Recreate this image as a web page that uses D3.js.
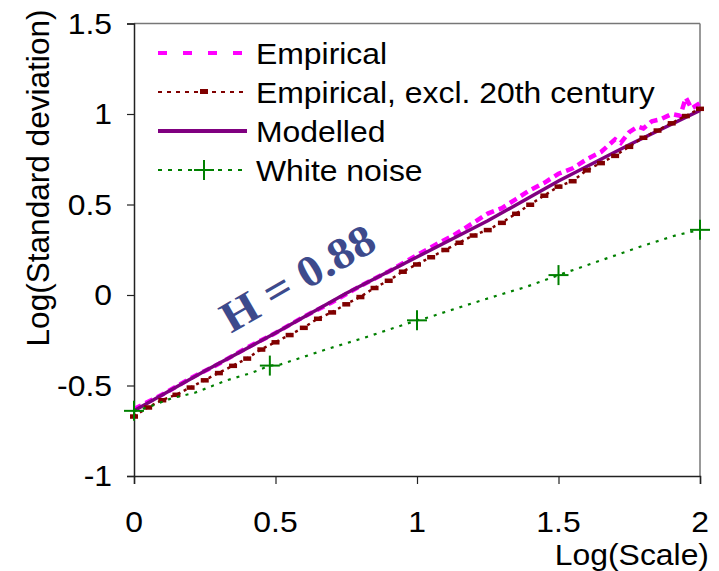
<!DOCTYPE html>
<html><head><meta charset="utf-8">
<script src="https://cdn.jsdelivr.net/npm/d3@7"></script>
<style>body{margin:0;background:#fff}svg{display:block}</style>
</head><body><svg id="c" width="719" height="571"></svg>
<script>
const xTicks=[0,0.5,1,1.5,2];
const yTicks=[-1,-0.5,0,0.5,1,1.5];
const seriesNames=["Empirical","Empirical, excl. 20th century","Modelled","White noise"];
const empX=[0,0.1,0.2,0.3,0.4,0.5,0.6,0.7,0.8,0.9,1.0,1.08,1.13,1.2,1.25,1.3,1.35,1.4,1.45,1.5,1.55,1.6,1.65,1.7,1.72,1.75,1.78,1.8,1.83,1.86,1.9,1.93,1.95,1.97,2.0];
const empY=[-0.63,-0.55,-0.46,-0.38,-0.29,-0.21,-0.12,-0.04,0.05,0.13,0.22,0.29,0.33,0.4,0.45,0.48,0.53,0.58,0.62,0.67,0.70,0.75,0.79,0.86,0.84,0.9,0.93,0.92,0.96,0.97,1.0,0.99,1.09,1.03,1.06];
const exclX=[0,0.05,0.1,0.15,0.2,0.25,0.3,0.35,0.4,0.45,0.5,0.55,0.6,0.65,0.7,0.75,0.8,0.85,0.9,0.95,1.0,1.05,1.1,1.15,1.2,1.25,1.3,1.35,1.4,1.45,1.5,1.55,1.6,1.65,1.7,1.75,1.8,1.85,1.9,1.95,2.0];
const exclY=[-0.67,-0.62,-0.58,-0.55,-0.51,-0.47,-0.43,-0.39,-0.35,-0.3,-0.26,-0.22,-0.18,-0.13,-0.095,-0.05,-0.01,0.04,0.08,0.13,0.17,0.21,0.25,0.29,0.33,0.36,0.4,0.45,0.5,0.55,0.6,0.63,0.69,0.73,0.77,0.82,0.87,0.91,0.95,0.99,1.03];
const modX=[0,0.25,0.5,0.75,1,1.25,1.5,1.75,2];
const modY=[-0.64,-0.42,-0.21,0.01,0.21,0.41,0.63,0.83,1.02];
const wnX=[0,0.05,0.134,0.215,0.33,0.416,0.48,0.515,0.69,0.82,1,1.044,1.174,1.29,1.386,1.5,1.795,1.915,2];
const wnY=[-0.64,-0.62,-0.57,-0.54,-0.47,-0.43,-0.39,-0.385,-0.295,-0.233,-0.14,-0.122,-0.056,0.0,0.045,0.11,0.27,0.33,0.36];
const wnMarkX=[0,0.48,1,1.5,2];
const wnMarkY=[-0.64,-0.39,-0.14,0.11,0.36];

const svg=d3.select("#c");
const L=134,R=700,T=23.5,B=476;
const SANS="Liberation Sans, Arial, sans-serif";
const x=d3.scaleLinear().domain([0,2]).range([L,R]);
const y=d3.scaleLinear().domain([-1,1.5]).range([B,T]);
const zip=(a,b)=>a.map((v,i)=>[v,b[i]]);
const line=d3.line().x(d=>x(d[0])).y(d=>y(d[1]));
const SX=1.1, FS=29;
function txt(px,py,s,anchor,rot){
  const g=svg.append("g").attr("transform",`translate(${px},${py})`+(rot?` rotate(${rot})`:"")+` scale(${SX},1)`);
  return g.append("text").attr("text-anchor",anchor||"start").style("font-family",SANS).style("font-size",FS+"px").attr("fill","#000").text(s);
}

// frame
svg.append("line").attr("x1",L).attr("x2",R).attr("y1",T).attr("y2",T).attr("stroke","#777").attr("stroke-width",1.5);
svg.append("line").attr("x1",R).attr("x2",R).attr("y1",T).attr("y2",B).attr("stroke","#777").attr("stroke-width",1.5);

const xa=svg.append("g").attr("transform",`translate(0,${B})`).call(d3.axisBottom(x).tickValues(xTicks).tickSize(8).tickFormat(""));
const ya=svg.append("g").attr("transform",`translate(${L},0)`).call(d3.axisLeft(y).tickValues(yTicks).tickSize(7).tickFormat(""));
[xa,ya].forEach(g=>{g.select(".domain").attr("stroke","#222").attr("stroke-width",1.5);g.selectAll(".tick line").attr("stroke","#222").attr("stroke-width",1.2);});
xTicks.forEach(t=>txt(x(t),532,String(t),"middle"));
yTicks.forEach(t=>txt(112,y(t)+10,String(t),"end"));

// series
svg.append("path").attr("d",line(zip(empX,empY))).attr("fill","none").attr("stroke","#ff00ff").attr("stroke-width",4.5).attr("stroke-dasharray","8,5");
svg.append("path").attr("d",line(zip(modX,modY))).attr("fill","none").attr("stroke","#800080").attr("stroke-width",3.5);
svg.append("path").attr("d",line(zip(exclX,exclY))).attr("fill","none").attr("stroke","#800000").attr("stroke-width",2.5).attr("stroke-dasharray","3,4");
svg.append("g").selectAll("rect").data(zip(exclX,exclY)).join("rect").attr("x",d=>x(d[0])-4).attr("y",d=>y(d[1])-2).attr("width",8).attr("height",4.5).attr("fill","#800000");
svg.append("path").attr("d",line(zip(wnX,wnY))).attr("fill","none").attr("stroke","#008000").attr("stroke-width",2.2).attr("stroke-dasharray","3,6");
const cross=(g,cx,cy,s)=>{g.append("line").attr("x1",cx-s).attr("x2",cx+s).attr("y1",cy).attr("y2",cy).attr("stroke","#008000").attr("stroke-width",2);
 g.append("line").attr("x1",cx).attr("x2",cx).attr("y1",cy-s).attr("y2",cy+s).attr("stroke","#008000").attr("stroke-width",2);};
const mg=svg.append("g");
zip(wnMarkX,wnMarkY).forEach(d=>cross(mg,x(d[0]),y(d[1]),10));

// legend
const lg=svg.append("g");
const rows=[53,92,131,170];
lg.append("line").attr("x1",158).attr("x2",247).attr("y1",rows[0]).attr("y2",rows[0]).attr("stroke","#ff00ff").attr("stroke-width",4).attr("stroke-dasharray","9,16");
lg.append("line").attr("x1",158).attr("x2",247).attr("y1",rows[1]).attr("y2",rows[1]).attr("stroke","#800000").attr("stroke-width",2).attr("stroke-dasharray","4,5");
lg.append("rect").attr("x",200).attr("y",rows[1]-3).attr("width",8).attr("height",5).attr("fill","#800000");
lg.append("line").attr("x1",158).attr("x2",247).attr("y1",rows[2]).attr("y2",rows[2]).attr("stroke","#800080").attr("stroke-width",4);
lg.append("line").attr("x1",158).attr("x2",247).attr("y1",rows[3]).attr("y2",rows[3]).attr("stroke","#008000").attr("stroke-width",2.2).attr("stroke-dasharray","4,6");
cross(lg,204,rows[3],10);
seriesNames.forEach((n,i)=>txt(256,rows[i]+11,n,"start"));

// axis titles
txt(709,565,"Log(Scale)","end");
svg.append("text").attr("transform","translate(49,178) rotate(-90)").attr("text-anchor","middle").style("font-family",SANS).style("font-size","31px").attr("textLength",337).attr("lengthAdjust","spacingAndGlyphs").text("Log(Standard deviation)");

// annotation
svg.append("text").attr("transform","translate(305,291) rotate(-30) scale(1.08,1)").attr("text-anchor","middle")
 .style("font-family","Liberation Serif, Times New Roman, serif").style("font-weight","bold").style("font-size","44px").attr("fill","#3d4a8c").text("H = 0.88");
</script></body></html>
